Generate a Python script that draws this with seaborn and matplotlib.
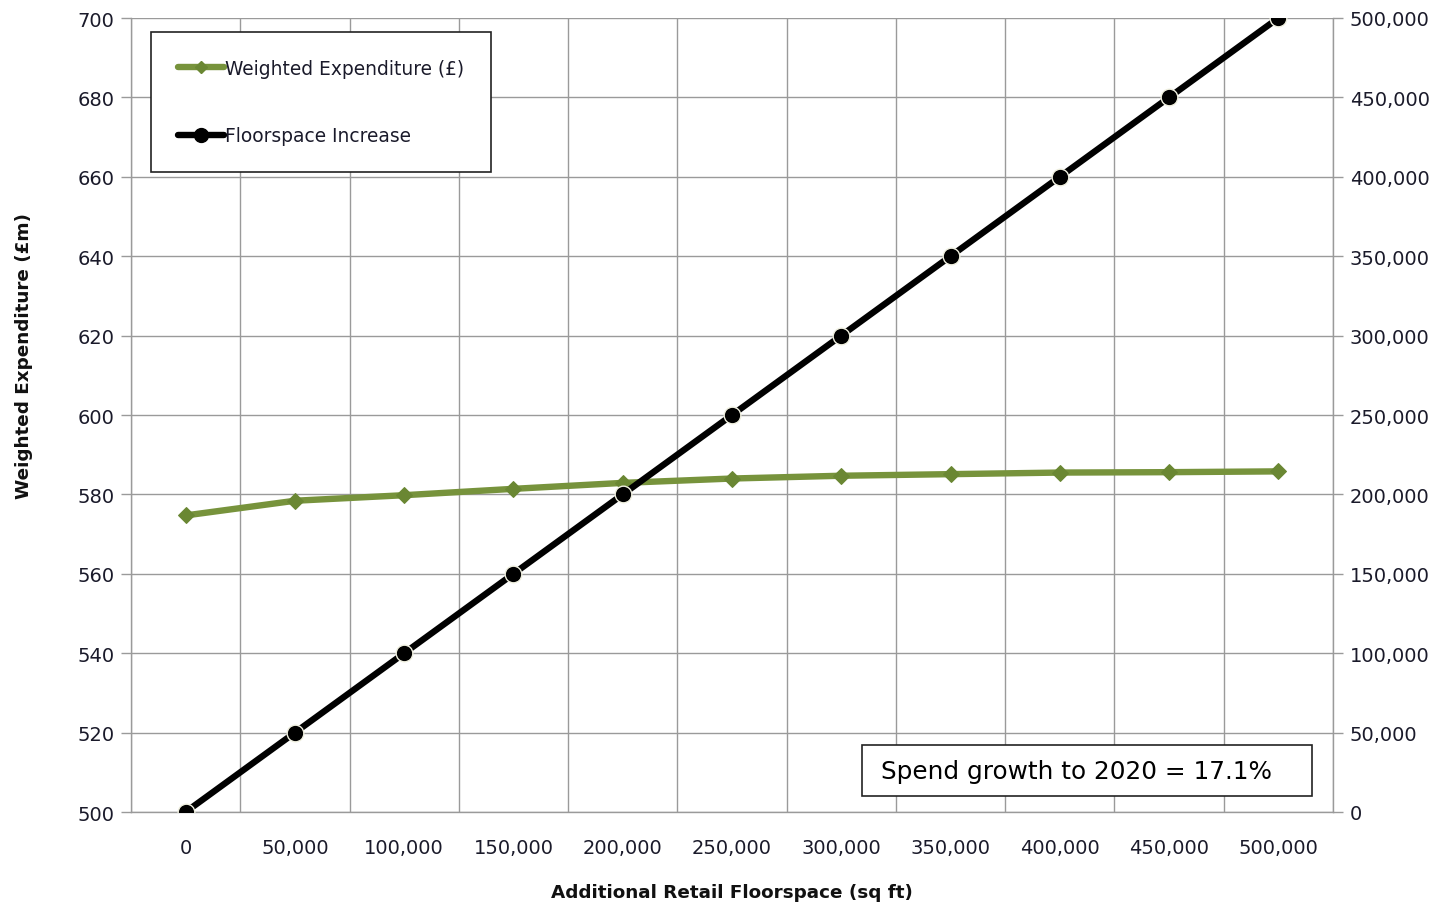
import numpy as np
import pandas as pd
import matplotlib
matplotlib.use("Agg")
import matplotlib.pyplot as plt
import seaborn as sns
from matplotlib.lines import Line2D
from matplotlib.patches import Rectangle
from matplotlib.ticker import FuncFormatter

# Additional retail floorspace categories (sq ft)
floorspace_labels = ["0", "50,000", "100,000", "150,000", "200,000", "250,000",
                     "300,000", "350,000", "400,000", "450,000", "500,000"]
# Weighted expenditure (£m) on the left axis
weighted_expenditure = [574.7, 578.4, 579.8, 581.4, 582.9, 584.0,
                        584.7, 585.1, 585.5, 585.6, 585.8]
# Floorspace increase (sq ft) on the right axis
floorspace_increase = [0, 50000, 100000, 150000, 200000, 250000,
                       300000, 350000, 400000, 450000, 500000]

left_ticks = list(range(500, 701, 20))
right_ticks = list(range(0, 500001, 50000))

sns.set_theme(style="white")
plt.rcParams["font.family"] = ["DejaVu Sans"]

df = pd.DataFrame({
    "floorspace": floorspace_labels,
    "expenditure": weighted_expenditure,
    "increase": floorspace_increase,
})

W, H = 1438, 903
fig = plt.figure(figsize=(W / 100, H / 100), dpi=100)
ax = fig.add_axes([131 / W, 1 - 813 / H, (1333 - 131) / W, (813 - 19) / H])
ax2 = ax.twinx()

green = "#77933C"
green_dark = "#6a8733"
grid_col = "#9a9a9a"
text_col = "#1a1a2a"
tick_size = 14

sns.lineplot(data=df, x="floorspace", y="expenditure", ax=ax, color=green,
             linewidth=4.6, marker="D", markersize=8, markerfacecolor=green_dark,
             markeredgecolor=green_dark, sort=False, zorder=3)
sns.lineplot(data=df, x="floorspace", y="increase", ax=ax2, color="black",
             linewidth=4.6, marker="o", markersize=12, markerfacecolor="black",
             markeredgecolor="#f0f0e0", markeredgewidth=1.0, sort=False, zorder=3)

n = len(floorspace_labels)
for a in (ax, ax2):
    a.set_xlim(-0.5, n - 0.5)
ax.set_ylim(500, 700)
ax2.set_ylim(0, 500000)

# Category labels at centres, tick marks and gridlines on category boundaries
ax.set_xticks(range(n))
ax.set_xticklabels(floorspace_labels)
ax.set_xticks(np.arange(-0.5, n, 1.0), minor=True)
ax.tick_params(axis="x", which="major", length=0, pad=19, labelsize=tick_size, labelcolor=text_col)
ax.tick_params(axis="x", which="minor", length=8, width=1, color=grid_col, direction="out")
ax.grid(True, axis="x", which="minor", color=grid_col, linewidth=1)
ax.grid(False, axis="x", which="major")

ax.set_yticks(left_ticks)
ax.tick_params(axis="y", length=7, width=1, color=grid_col, direction="out",
               labelsize=tick_size, labelcolor=text_col, pad=5, left=True)
ax.grid(True, axis="y", which="major", color=grid_col, linewidth=1)

ax2.set_yticks(right_ticks)
ax2.yaxis.set_major_formatter(FuncFormatter(lambda v, p: f"{int(v):,}"))
ax2.tick_params(axis="y", length=7, width=1, color=grid_col, direction="out",
                labelsize=tick_size, labelcolor=text_col, pad=5, right=True)
ax2.grid(False)

for a in (ax, ax2):
    for side in ("top", "bottom", "left", "right"):
        a.spines[side].set_visible(False)
for side in ("left", "bottom"):
    ax.spines[side].set_visible(True)
    ax.spines[side].set_color(grid_col)
    ax.spines[side].set_linewidth(1)
ax2.spines["right"].set_visible(True)
ax2.spines["right"].set_color(grid_col)
ax2.spines["right"].set_linewidth(1)

ax.set_xlabel("")
ax.set_ylabel("")
ax2.set_ylabel("")

fig.text(732 / W, 1 - 893 / H, "Additional Retail Floorspace (sq ft)",
         ha="center", va="center", fontsize=13.2, fontweight="bold", color="#111111")
fig.text(24 / W, 1 - 356 / H, "Weighted Expenditure (£m)", rotation=90,
         ha="center", va="center", fontsize=13.2, fontweight="bold", color="#111111")

# Legend
handles = [
    Line2D([], [], color=green, linewidth=4.6, marker="D", markersize=6,
           markerfacecolor=green_dark, markeredgecolor=green_dark),
    Line2D([], [], color="black", linewidth=4.6, marker="o", markersize=10,
           markerfacecolor="black"),
]
leg = ax2.legend(handles, ["Weighted Expenditure (£)", "Floorspace Increase"],
                 loc="upper left", bbox_to_anchor=((151 - 131) / 1202, 1 - (33 - 19) / 794),
                 frameon=True, fancybox=False, edgecolor="#222222", fontsize=13.4,
                 handlelength=2.45, handletextpad=0.05, labelspacing=2.6,
                 borderpad=1.45, borderaxespad=0, framealpha=1)
leg.get_frame().set_linewidth(1.2)
for t in leg.get_texts():
    t.set_color(text_col)

# Annotation box
fig.patches.append(Rectangle((862 / W, 1 - 797 / H), (1312 - 862) / W, (797 - 746) / H,
                             transform=fig.transFigure, facecolor="white",
                             edgecolor="#222222", linewidth=1.2, zorder=10))
fig.text(881 / W, 1 - 772 / H, "Spend growth to 2020 = 17.1%",
         ha="left", va="center", fontsize=17.8, color="black", zorder=11)

fig.savefig("out.png", dpi=100, facecolor="white")
